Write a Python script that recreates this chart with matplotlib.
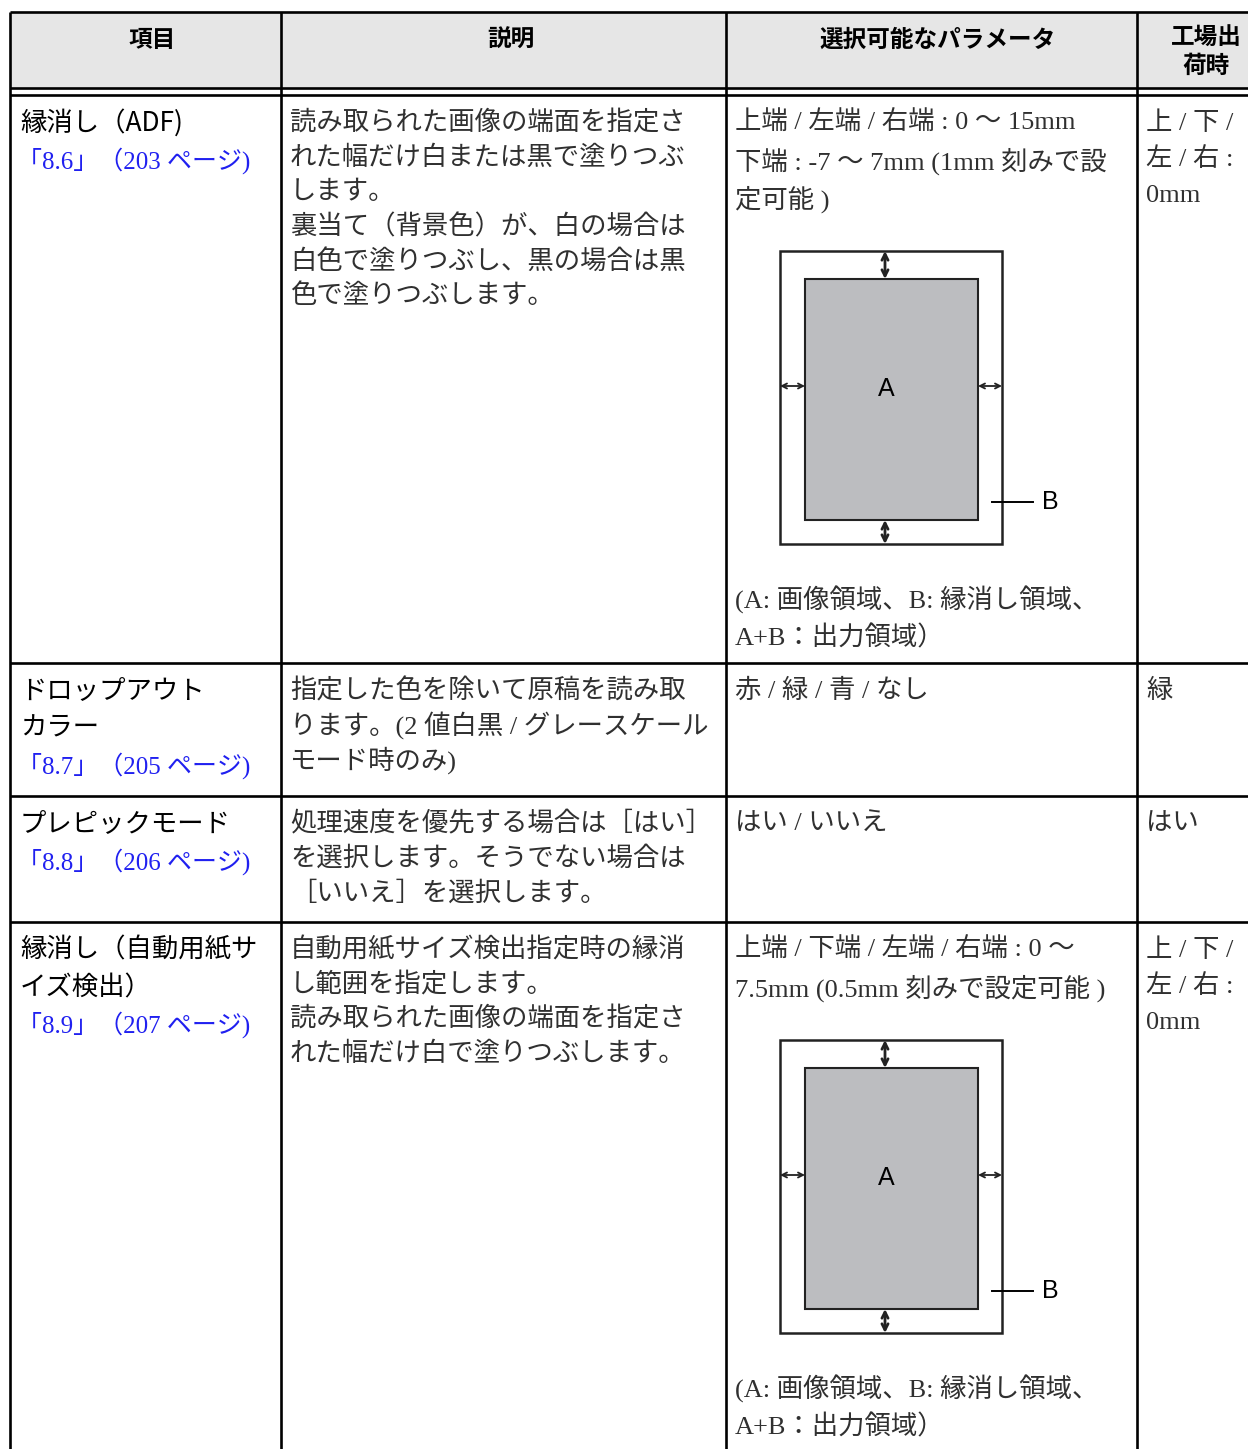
import matplotlib.pyplot as plt
from matplotlib.patches import Rectangle

# table content
headers = ['項目', '説明', '選択可能なパラメータ', '工場出\n荷時']
items = [['縁消し（ADF)'],
         ['ドロップアウト', 'カラー'],
         ['プレピックモード'],
         ['縁消し（自動用紙サ', 'イズ検出）']]
links = ['「8.6」（203 ページ)', '「8.7」（205 ページ)', '「8.8」（206 ページ)', '「8.9」（207 ページ)']
descs = [['読み取られた画像の端面を指定さ', 'れた幅だけ白または黒で塗りつぶ', 'します。',
          '裏当て（背景色）が、白の場合は', '白色で塗りつぶし、黒の場合は黒', '色で塗りつぶします。'],
         ['指定した色を除いて原稿を読み取', 'ります。(2 値白黒 / グレースケール', 'モード時のみ)'],
         ['処理速度を優先する場合は［はい］', 'を選択します。そうでない場合は', '［いいえ］を選択します。'],
         ['自動用紙サイズ検出指定時の縁消', 'し範囲を指定します。', '読み取られた画像の端面を指定さ',
          'れた幅だけ白で塗りつぶします。']]
params = [['上端 / 左端 / 右端 : 0 〜 15mm', '下端 : -7 〜 7mm (1mm 刻みで設', '定可能 )'],
          ['赤 / 緑 / 青 / なし'],
          ['はい / いいえ'],
          ['上端 / 下端 / 左端 / 右端 : 0 〜', '7.5mm (0.5mm 刻みで設定可能 )']]
defaults = [['上 / 下 /', '左 / 右 :', '0mm'], ['緑'], ['はい'], ['上 / 下 /', '左 / 右 :', '0mm']]
has_diagram = [True, False, False, True]
caption = ['(A: 画像領域、B: 縁消し領域、', 'A+B：出力領域）']

# layout (pixels)
W, H = 1248, 1449
col_x = [10, 281, 726, 1137]
row_tops = [95, 663, 796, 922]
SANS = ['Noto Sans CJK JP']
SERIF = ['Liberation Serif', 'Noto Sans CJK JP']
FS = 19
INK = '#303030'

fig = plt.figure(figsize=(W / 100, H / 100), dpi=100)
ax = fig.add_axes([0, 0, 1, 1])
ax.set_xlim(0, W)
ax.set_ylim(H, 0)
ax.axis('off')

# header
ax.add_patch(Rectangle((col_x[0], 12), W - col_x[0], 76, color='#e6e6e6', zorder=0))
hx = [152, 511, 938, 1206]
for x, h in zip(hx, headers):
    ax.text(x, 52 if '\n' in h else 40, h, ha='center', va='center', family=SANS,
            weight='bold', fontsize=17, color='black', linespacing=1.25)

lw = 1.9
for y in [12, 88, 95] + row_tops[1:]:
    ax.plot([col_x[0], W], [y, y], color='black', lw=lw, solid_capstyle='butt')
for x in col_x:
    ax.plot([x, x], [12, H], color='black', lw=lw, solid_capstyle='butt')


def diagram(top):
    l, r, b = 780, 1002, top + 293
    ax.add_patch(Rectangle((l, top), r - l, 293, fill=False, ec='#222222', lw=1.8))
    ax.add_patch(Rectangle((805, top + 28), 173, 241, fc='#bcbdc0', ec='#222222', lw=1.5))
    cy = top + 138
    ax.text(886, cy, 'A', ha='center', va='center', family=['Liberation Sans'], fontsize=18, color='black')
    ax.plot([992, 1033], [top + 251, top + 251], color='black', lw=1.4)
    ax.text(1042, top + 251, 'B', ha='left', va='center', family=['Liberation Sans'], fontsize=18, color='black')
    ap = dict(arrowstyle='<->', color='#222222', lw=1.3, mutation_scale=9, shrinkA=0, shrinkB=0)
    apv = dict(ap, lw=2.0, mutation_scale=11)
    ax.annotate('', xy=(885, top), xytext=(885, top + 28), arrowprops=apv)
    ax.annotate('', xy=(885, top + 269), xytext=(885, b), arrowprops=apv)
    ax.annotate('', xy=(l, cy - 3), xytext=(805, cy - 3), arrowprops=ap)
    ax.annotate('', xy=(978, cy - 3), xytext=(r, cy - 3), arrowprops=ap)


for i, top in enumerate(row_tops):
    y0 = top + 28
    n = len(items[i])
    for k, s in enumerate(items[i]):
        ax.text(20, y0 + k * 37.5, s, va='center', family=SANS, fontsize=FS, color='black')
    ax.text(17, y0 + n * 37.5, links[i], va='center', family=SERIF, fontsize=18, color='#2020f0')
    for k, s in enumerate(descs[i]):
        ax.text(290, y0 + k * 34.5, s, va='center', family=SERIF, fontsize=FS, color=INK)
    for k, s in enumerate(params[i]):
        ax.text(735, y0 + k * 38, s, va='center', family=SERIF, fontsize=FS, color=INK)
    for k, s in enumerate(defaults[i]):
        ax.text(1146, y0 + k * 36.5, s, va='center', family=SERIF, fontsize=FS, color=INK)
    if has_diagram[i]:
        dtop = y0 + (len(params[i]) - 1) * 38 + 52
        diagram(dtop)
        for k, s in enumerate(caption):
            ax.text(735, dtop + 349 + k * 38, s, va='center', family=SERIF, fontsize=FS, color=INK)

fig.savefig('out.png', dpi=100)
